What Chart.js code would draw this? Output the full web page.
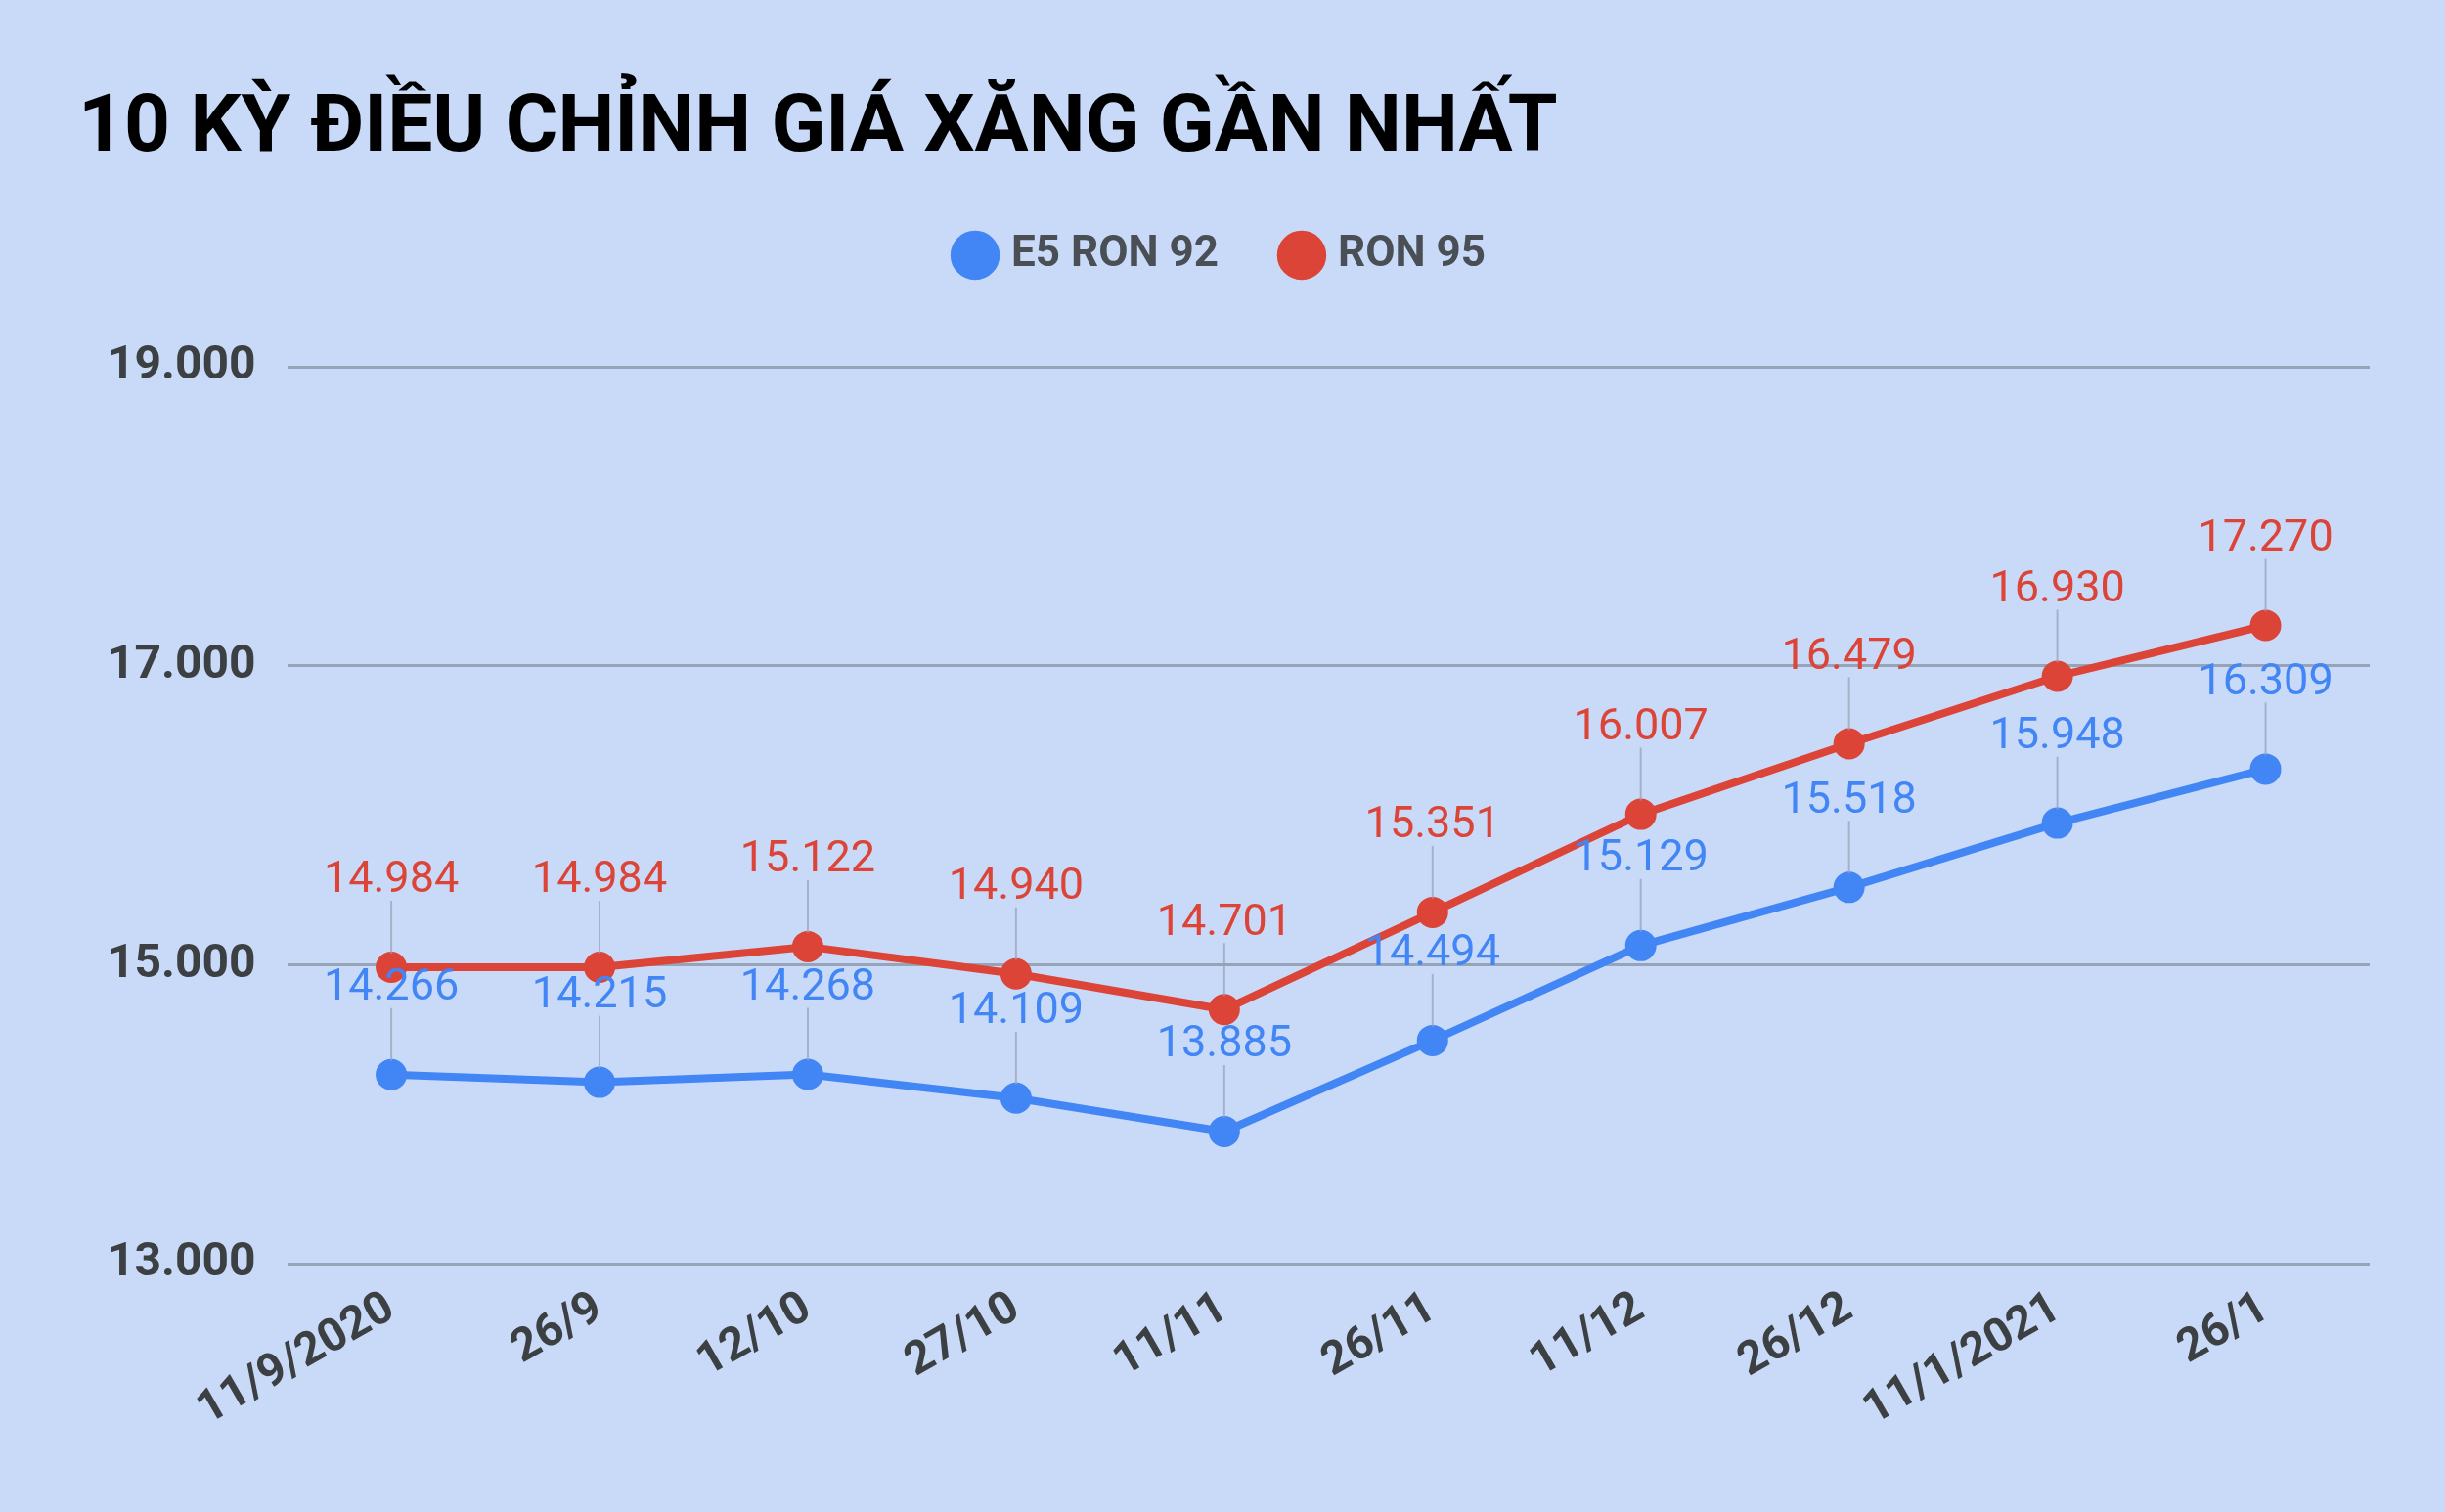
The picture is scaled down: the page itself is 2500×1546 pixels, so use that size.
<!DOCTYPE html>
<html><head><meta charset="utf-8">
<script src="https://cdn.jsdelivr.net/npm/chart.js@4"></script>
<style>
html,body{margin:0;padding:0;background:#c9daf8;}
#wrap{position:relative;width:2500px;height:1546px;}
#title{position:absolute;left:80px;top:78px;font:bold 82px Roboto,"Noto Sans",sans-serif;color:#000;}
canvas{position:absolute;left:0;top:0;}
</style></head><body>
<div id="wrap"><div id="title">10 KỲ ĐIỀU CHỈNH GIÁ XĂNG GẦN NHẤT</div>
<canvas id="c" width="2500" height="1546"></canvas></div>
<script>
const categories=["11/9/2020","26/9","12/10","27/10","11/11","26/11","11/12","26/12","11/1/2021","26/1"];
const e5=[14266,14215,14268,14109,13885,14494,15129,15518,15948,16309];
const ron95=[14984,14984,15122,14940,14701,15351,16007,16479,16930,17270];
const yTicks=[13000,15000,17000,19000];
const fmt=v=>{const s=String(Math.round(v));return s.slice(0,-3)+"."+s.slice(-3);};
const labelPlugin={id:'lbl',afterDatasetsDraw(chart){
  const ctx=chart.ctx;ctx.save();
  chart.data.datasets.forEach((ds,i)=>{
    const meta=chart.getDatasetMeta(i);
    meta.data.forEach((pt,j)=>{
      ctx.strokeStyle='rgba(150,160,180,0.7)';ctx.lineWidth=2;
      ctx.beginPath();ctx.moveTo(pt.x,pt.y-14);ctx.lineTo(pt.x,pt.y-68);ctx.stroke();
      ctx.fillStyle=ds.borderColor;ctx.font='45px Roboto';ctx.textAlign='center';ctx.textBaseline='middle';
      ctx.fillText(fmt(ds.data[j]),pt.x,pt.y-88);
    });
  });
  ctx.restore();
}};
const legendGap={id:'legendGap',beforeUpdate(chart){
  const lg=chart.legend;
  if(lg&&!lg._patched){const f=lg.fit;lg.fit=function(){f.call(this);this.height+=82;};lg._patched=true;}
}};
new Chart(document.getElementById('c'),{
  type:'line',
  data:{labels:categories,datasets:[
    {label:'E5 RON 92',data:e5,borderColor:'#4285f4',backgroundColor:'#4285f4',borderWidth:8,pointRadius:12,pointHoverRadius:12},
    {label:'RON 95',data:ron95,borderColor:'#db4437',backgroundColor:'#db4437',borderWidth:8,pointRadius:12,pointHoverRadius:12}
  ]},
  options:{responsive:false,animation:false,
    layout:{padding:{top:169,left:78,right:77,bottom:65}},
    plugins:{tooltip:{enabled:false},
      legend:{labels:{usePointStyle:true,pointStyle:'circle',boxWidth:30,boxHeight:30,padding:70,color:'#4a4e55',font:{family:'Roboto',size:44,weight:'bold'}}}},
    scales:{
      x:{offset:true,grid:{display:false},border:{display:false},
        ticks:{color:'#3c4043',font:{family:'Roboto',size:47,weight:'bold'},maxRotation:30,minRotation:30,padding:10}},
      y:{min:13000,max:19000,afterBuildTicks:a=>{a.ticks=yTicks.map(v=>({value:v}));},
        grid:{color:'#97a3b6',lineWidth:3,drawTicks:false},border:{display:false},
        ticks:{color:'#3c4043',font:{family:'Roboto',size:48,weight:'bold'},padding:32,callback:v=>fmt(v)}}
    }},
  plugins:[legendGap,labelPlugin]
});
</script></body></html>
